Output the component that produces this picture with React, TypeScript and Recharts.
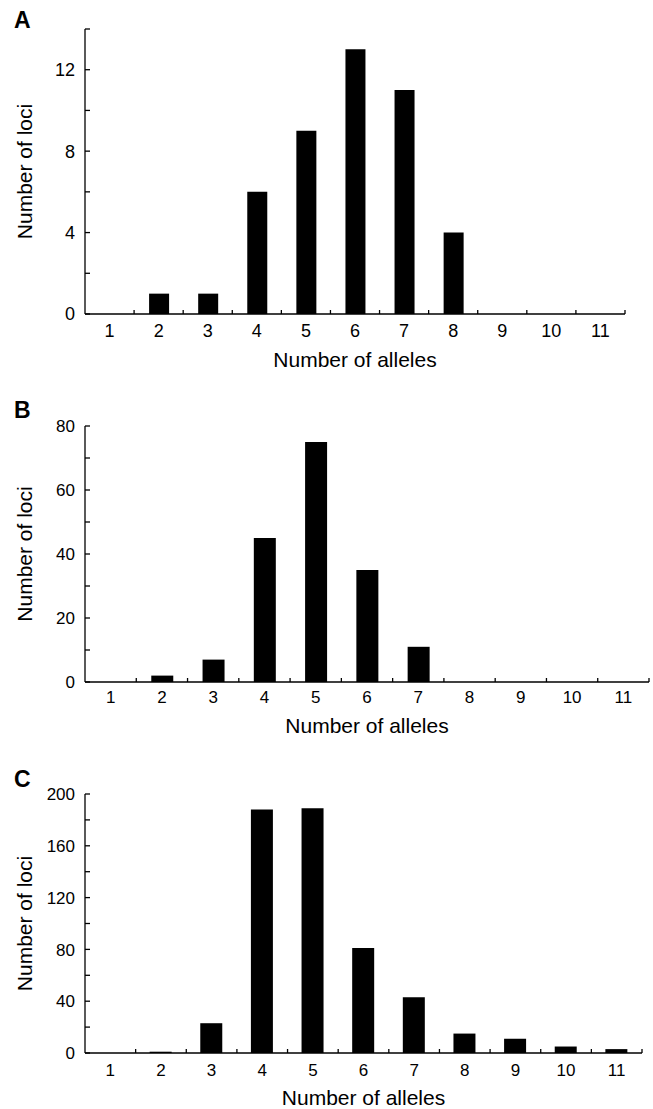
import { Bar, BarChart, Label, XAxis, YAxis } from 'recharts'

const FONT = '"Liberation Sans", Arial, Helvetica, sans-serif'

// number of alleles per locus (categories shared by all panels)
const alleles = ['1', '2', '3', '4', '5', '6', '7', '8', '9', '10', '11']

// number of loci
const lociA = [0, 1, 1, 6, 9, 13, 11, 4, 0, 0, 0]
const lociB = [0, 2, 7, 45, 75, 35, 11, 0, 0, 0, 0]
const lociC = [0, 1, 23, 188, 189, 81, 43, 15, 11, 5, 3]

// y ticks (all drawn) and the ones that get a number
const yTicksA = [0, 2, 4, 6, 8, 10, 12, 14]
const yLabelsA = [0, 4, 8, 12]
const yTicksB = [0, 10, 20, 30, 40, 50, 60, 70, 80]
const yLabelsB = [0, 20, 40, 60, 80]
const yTicksC = [0, 20, 40, 60, 80, 100, 120, 140, 160, 180, 200]
const yLabelsC = [0, 40, 80, 120, 160, 200]

interface PanelProps {
  values: number[]
  yTicks: number[]
  yLabels: number[]
  top: number
  height: number
  marginTop: number
  marginRight: number
  xAxisHeight: number
  barSize: number
  tickFont: number
  tickGap: number
  titleGap: number
}

function Panel({
  values,
  yTicks,
  yLabels,
  top,
  height,
  marginTop,
  marginRight,
  xAxisHeight,
  barSize,
  tickFont,
  tickGap,
  titleGap,
}: PanelProps) {
  const data = alleles.map((a, i) => ({ alleles: a, loci: values[i] }))
  const yAxisWidth = 85
  const band = (653 - yAxisWidth - marginRight) / alleles.length
  const yMax = yTicks[yTicks.length - 1]
  const plotH = height - marginTop - xAxisHeight

  const xTick = (p: any) => {
    const bx = p.x + band / 2
    return (
      <g>
        <line x1={bx} y1={p.y} x2={bx} y2={p.y - 4} stroke="#000" strokeWidth={1.3} />
        <text x={p.x} y={p.y + tickGap} textAnchor="middle" fontSize={tickFont} fontFamily={FONT} fill="#000">
          {p.payload.value}
        </text>
      </g>
    )
  }

  const yTick = (p: any) => (
    <g>
      <line x1={p.x} y1={p.y} x2={p.x + 5} y2={p.y} stroke="#000" strokeWidth={1.3} />
      {yLabels.includes(p.payload.value) && (
        <text x={p.x - 10} y={p.y} dy="0.36em" textAnchor="end" fontSize={tickFont} fontFamily={FONT} fill="#000">
          {p.payload.value}
        </text>
      )}
    </g>
  )

  return (
    <div style={{ position: 'absolute', left: 0, top }}>
      <BarChart width={653} height={height} data={data} margin={{ top: marginTop, right: marginRight, left: 0, bottom: 0 }}>
        <XAxis
          dataKey="alleles"
          type="category"
          interval={0}
          height={xAxisHeight}
          tickLine={false}
          tickSize={0}
          tickMargin={0}
          axisLine={{ stroke: '#000', strokeWidth: 1.3 }}
          tick={xTick}
        >
          <Label
            content={() => {
              const cx = yAxisWidth + (band * alleles.length) / 2
              const y = marginTop + plotH + titleGap
              return (
                <text x={cx} y={y} textAnchor="middle" fontSize={21} fontFamily={FONT} fill="#000">
                  Number of alleles
                </text>
              )
            }}
          />
        </XAxis>
        <YAxis
          type="number"
          domain={[0, yMax]}
          ticks={yTicks}
          interval={0}
          width={yAxisWidth}
          tickLine={false}
          tickSize={0}
          tickMargin={0}
          axisLine={{ stroke: '#000', strokeWidth: 1.3 }}
          tick={yTick}
        >
          <Label
            content={() => {
              const cy = marginTop + plotH / 2
              return (
                <text
                  x={32}
                  y={cy}
                  transform={`rotate(-90 32 ${cy})`}
                  textAnchor="middle"
                  fontSize={21}
                  fontFamily={FONT}
                  fill="#000"
                >
                  Number of loci
                </text>
              )
            }}
          />
        </YAxis>
        <Bar dataKey="loci" fill="#000" barSize={barSize} isAnimationActive={false} />
      </BarChart>
    </div>
  )
}

export default function App() {
  return (
    <div style={{ position: 'absolute', left: 0, top: 0, width: 653, height: 1109, background: '#fff', overflow: 'hidden' }}>
      <Panel
        values={lociA}
        yTicks={yTicksA}
        yLabels={yLabelsA}
        top={0}
        height={380}
        marginTop={29}
        marginRight={28}
        xAxisHeight={66}
        barSize={20}
        tickFont={18}
        tickGap={23}
        titleGap={53}
      />
      <Panel
        values={lociB}
        yTicks={yTicksB}
        yLabels={yLabelsB}
        top={380}
        height={380}
        marginTop={46}
        marginRight={4}
        xAxisHeight={78}
        barSize={22}
        tickFont={17}
        tickGap={21}
        titleGap={51}
      />
      <Panel
        values={lociC}
        yTicks={yTicksC}
        yLabels={yLabelsC}
        top={760}
        height={349}
        marginTop={34}
        marginRight={11}
        xAxisHeight={56}
        barSize={22}
        tickFont={17}
        tickGap={23}
        titleGap={52}
      />
      <svg width={653} height={1109} style={{ position: 'absolute', left: 0, top: 0, pointerEvents: 'none' }}>
        <text x={14} y={28} fontSize={23} fontWeight="bold" fontFamily={FONT} fill="#000">A</text>
        <text x={14} y={418} fontSize={23} fontWeight="bold" fontFamily={FONT} fill="#000">B</text>
        <text x={14} y={787} fontSize={23} fontWeight="bold" fontFamily={FONT} fill="#000">C</text>
      </svg>
    </div>
  )
}
